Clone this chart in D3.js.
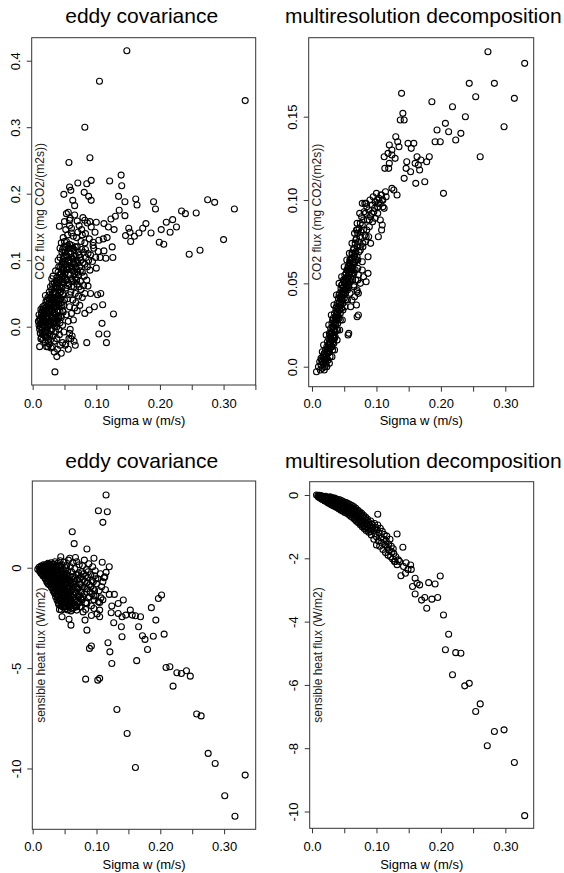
<!DOCTYPE html>
<html><head><meta charset="utf-8">
<script src="https://cdn.jsdelivr.net/npm/d3@7"></script>
<style>html,body{margin:0;padding:0;background:#fff;overflow:hidden}svg{display:block}</style>
</head><body>
<svg id="c" width="564" height="873"></svg>
<script>
// ---------- text ----------
const panelTitles = ["eddy covariance", "multiresolution decomposition", "eddy covariance", "multiresolution decomposition"];
const xAxisTitle = "Sigma w (m/s)";
const yAxisTitles = ["CO2 flux (mg CO2/(m2s))", "CO2 flux (mg CO2/(m2s))", "sensible heat flux (W/m2)", "sensible heat flux (W/m2)"];

// ---------- ticks ----------
const xTicks = [0, 0.05, 0.10, 0.15, 0.20, 0.25, 0.30, 0.35];
const xTickLabels = ["0.0", "", "0.10", "", "0.20", "", "0.30", ""];
const co2EcTicks = [0, 0.1, 0.2, 0.3, 0.4];
const co2EcTickLabels = ["0.0", "0.1", "0.2", "0.3", "0.4"];
const co2MrdTicks = [0, 0.05, 0.10, 0.15];
const co2MrdTickLabels = ["0.0", "0.05", "0.10", "0.15"];
const hEcTicks = [0, -5, -10];
const hEcTickLabels = ["0", "-5", "-10"];
const hMrdTicks = [0, -2, -4, -6, -8, -10];
const hMrdTickLabels = ["0", "-2", "-4", "-6", "-8", "-10"];

// ---------- data: [sigma w (m/s), flux] ----------
const co2Ec = [
[.148,.415],[.105,.369],[.334,.340],[.082,.300],[.090,.254],[.057,.247],[.139,.228],[.092,.220],[.121,.219],[.140,.212],
[.071,.216],[.085,.215],[.058,.210],[.060,.205],[.049,.199],[.081,.202],[.088,.196],[.135,.196],[.145,.188],[.162,.192],
[.164,.183],[.092,.190],[.063,.190],[.066,.182],[.190,.188],[.193,.177],[.275,.191],[.286,.187],[.317,.177],[.257,.171],
[.234,.174],[.240,.170],[.220,.161],[.210,.157],[.226,.150],[.202,.146],[.216,.142],[.186,.141],[.178,.155],[.173,.148],
[.167,.141],[.160,.136],[.153,.142],[.146,.137],[.154,.128],[.151,.148],[.199,.127],[.206,.124],[.246,.109],[.263,.115],
[.300,.131],[.145,.167],[.136,.175],[.130,.166],[.123,.162],[.128,.146],[.119,.150],[.112,.155],[.117,.134],[.111,.132],
[.104,.130],[.125,.120],[.112,.114],[.126,.104],[.115,.103],[.106,.104],[.099,.104],[.100,.088],[.096,.118],[.095,.127],
[.100,.157],[.090,.158],[.082,.160],[.077,.146],[.078,.138],[.070,.159],[.059,.163],[.056,.172],[.042,.151],[.058,.152],
[.061,.141],[.071,.142],[.082,.126],[.087,.110],[.103,.113],[.090,.085],[.087,.061],[.091,.050],[.102,.048],[.107,.050],
[.110,.033],[.097,.030],[.089,.025],[.082,.020],[.127,.019],[.109,.005],[.104,-.011],[.117,-.011],[.116,-.024],[.085,-.024],
[.067,-.028],[.038,-.045],[.035,-.068],[.024,-.030],[.011,-.030],[.051,-.028],[.060,-.018],[.058,-.010],
[.009,.008],[.010,.002],[.011,-.004],[.012,.012],[.010,.018],[.012,-.010],[.013,.005],[.014,-.016],[.014,.020],[.013,.026],
[.015,-.002],[.016,.010],[.016,-.020],[.017,.003],[.017,.016],[.018,-.008],[.018,.024],[.019,.032],[.019,-.014],[.016,.030],
[.018,.009],[.015,.015],[.020,-.024],[.020,.000],[.021,.014],[.021,.038],[.022,-.006],[.022,.022],[.023,.007],[.023,-.016],
[.024,.030],[.024,.044],[.020,.047],[.022,-.030],[.024,.000],[.025,.012],[.025,-.010],[.026,.024],[.026,.052],[.027,.003],
[.027,.036],[.028,-.020],[.028,.017],[.029,.042],[.029,.008],[.026,-.026],[.028,.060],[.027,.028],[.030,.025],[.030,-.004],
[.031,.050],[.031,.013],[.032,.034],[.032,-.014],[.033,.004],[.033,.060],[.034,.020],[.034,.042],[.030,.072],[.032,.076],
[.031,-.030],[.033,.028],[.034,-.022],[.035,.010],[.035,.052],[.036,.030],[.036,-.008],[.037,.068],[.037,.018],[.038,.040],
[.038,.000],[.039,.058],[.039,.024],[.036,.084],[.038,-.018],[.035,.036],[.039,.046],[.040,.012],[.040,.064],[.041,.034],
[.041,-.004],[.042,.050],[.042,.078],[.043,.022],[.043,.006],[.044,.042],[.044,.090],[.040,.100],[.042,-.012],[.041,.056],
[.045,.060],[.045,.014],[.046,.074],[.046,.032],[.047,.002],[.047,.048],[.048,.088],[.048,.022],[.049,.066],[.049,-.008],
[.050,.040],[.050,.104],[.046,.112],
[.011,.010],[.012,.000],[.013,-.018],[.013,.015],[.014,.006],[.015,.024],[.015,-.010],[.016,.002],[.017,-.012],[.017,.027],
[.018,.017],[.019,.000],[.019,.020],[.020,.028],[.020,-.008],[.021,.006],[.021,-.016],[.022,.030],[.022,.012],[.023,.040],
[.023,-.002],[.024,.020],[.024,-.020],[.025,.034],[.025,.002],[.026,.008],[.026,.042],[.027,-.012],[.027,.048],[.028,.026],
[.028,.004],[.029,.032],[.029,-.006],[.030,.040],[.030,.015],[.030,.056],[.031,.030],[.031,.064],[.032,.044],[.032,.006],
[.033,.014],[.033,.050],[.034,.066],[.034,.030],[.035,.000],[.035,.044],[.036,.060],[.036,.014],[.037,.040],[.037,.006],
[.037,.050],[.038,.074],[.038,.030],[.039,.010],[.039,.066],[.040,.040],[.040,.022],[.040,.082],[.041,.070],[.041,.014],
[.042,.040],[.042,.060],[.043,.030],[.043,.070],[.044,.052],[.044,.016],[.045,.080],[.045,.036],[.046,.058],[.046,.094],
[.047,.068],[.047,.024],[.048,.050],[.048,.076],[.049,.086],[.049,.032],
[.043,.118],[.045,.126],[.047,.098],[.049,.120],[.051,.080],[.051,.112],[.052,.058],[.052,.094],[.053,.128],[.054,.070],
[.054,.106],[.055,.042],[.055,.086],[.056,.118],[.057,.064],[.057,.100],[.058,.030],[.058,.124],[.059,.078],[.060,.110],
[.060,.052],[.061,.090],[.062,.070],[.062,.122],[.063,.040],[.063,.102],[.064,.084],[.065,.060],[.065,.116],[.066,.094],
[.067,.074],[.067,.050],[.068,.106],[.069,.086],[.070,.064],[.070,.120],[.071,.096],[.072,.078],[.073,.108],[.074,.090],
[.075,.068],[.076,.100],[.078,.082],[.080,.112],[.082,.094],[.084,.104],[.053,.018],[.056,.008],[.059,-.004],[.061,.020],
[.064,.010],[.066,.028],[.068,.036],[.070,.024],[.072,.046],[.074,.032],[.076,.056],[.078,.044],[.080,.062],[.082,.050],
[.085,.070],[.062,-.014],[.065,-.022],[.057,-.018],[.052,-.026],[.047,-.024],[.043,-.028],[.039,-.034],[.034,-.038],[.029,-.032],
[.045,-.040],[.056,-.034],
[.041,.090],[.043,.104],[.044,.078],[.046,.086],[.047,.116],[.048,.106],[.049,.094],[.050,.074],[.050,.128],[.051,.098],
[.052,.070],[.052,.120],[.053,.086],[.053,.108],[.054,.090],[.055,.122],[.055,.062],[.056,.100],[.056,.078],[.057,.112],
[.058,.088],[.058,.048],[.059,.118],[.059,.096],[.060,.072],[.061,.104],[.061,.060],[.062,.086],[.063,.118],[.064,.096],
[.064,.068],[.065,.106],[.066,.080],[.067,.120],[.068,.090],[.069,.070],[.070,.100],[.071,.082],[.072,.112],[.073,.060],
[.074,.104],[.075,.084],[.077,.116],[.079,.096],[.081,.076],[.083,.116],[.086,.090],[.088,.100],[.091,.108],[.094,.098],
[.048,.134],[.052,.146],[.055,.138],[.058,.160],[.061,.148],[.064,.136],[.066,.168],[.069,.134],[.073,.152],[.076,.128],
[.079,.164],[.083,.140],[.086,.156],[.089,.132],[.092,.150],[.095,.122],[.098,.142],[.053,.170],[.050,.158]
];

const co2Mrd = [
[.273,.189],[.330,.182],[.244,.170],[.283,.170],[.139,.164],[.254,.162],[.314,.161],[.186,.159],[.218,.156],[.141,.152],
[.238,.150],[.137,.148],[.143,.148],[.298,.144],[.207,.146],[.194,.142],[.212,.141],[.231,.140],[.130,.138],[.133,.135],
[.223,.136],[.199,.135],[.191,.135],[.135,.132],[.120,.133],[.124,.130],[.149,.134],[.158,.134],[.154,.131],[.129,.125],
[.118,.128],[.112,.126],[.124,.127],[.120,.122],[.113,.119],[.119,.119],[.147,.123],[.163,.126],[.160,.122],[.165,.121],
[.169,.124],[.167,.118],[.153,.117],[.146,.119],[.182,.126],[.178,.123],[.175,.111],[.161,.110],[.143,.113],[.261,.126],
[.204,.104],[.124,.107],[.127,.106],[.132,.103],[.115,.102],[.107,.103],[.109,.100],[.101,.100],[.103,.098],[.110,.096],
[.084,.098],[.097,.095],[.093,.092],[.102,.092],[.098,.089],[.106,.088],[.109,.085],[.108,.082],[.103,.078],[.089,.088],
[.085,.082],[.080,.082],[.070,.082],[.088,.078],[.083,.075],[.075,.072],[.079,.074],[.091,.074],[.073,.069],[.070,.066],
[.087,.066],[.078,.063],[.066,.063],[.059,.064],[.061,.059],[.071,.059],[.065,.056],[.057,.056],[.087,.056],[.084,.051],
[.071,.052],[.065,.049],[.057,.048],[.070,.046],[.072,.044],[.070,.030],[.057,.020],[.049,.052],[.056,.019],[.072,.031],
[.069,.037],[.059,.064],[.069,.082],[.082,.098],
[.007,-.003],[.010,.000],[.012,.003],[.013,-.002],[.014,.001],[.015,.004],[.016,-.001],[.017,.006],[.018,.002],[.019,.008],
[.020,.000],[.020,.004],[.021,.010],[.022,.006],[.022,.002],[.023,.012],[.024,.008],[.024,.015],[.025,.004],[.025,.011],
[.026,.017],[.026,.013],[.027,.009],[.027,.020],[.028,.015],[.028,.006],[.029,.018],[.029,.023],[.030,.012],[.030,.021],
[.031,.026],[.031,.016],[.032,.010],[.032,.024],[.033,.019],[.033,.029],[.034,.022],[.034,.014],[.035,.027],[.035,.032],
[.036,.018],[.036,.025],[.037,.030],[.037,.035],[.038,.022],[.038,.028],[.039,.033],[.039,.038],[.040,.026],[.040,.031],
[.041,.036],[.041,.041],[.042,.029],[.042,.034],[.043,.039],[.043,.044],[.044,.032],[.044,.037],[.045,.042],[.045,.047],
[.046,.035],[.046,.040],[.047,.045],[.047,.049],[.048,.038],[.048,.043],[.049,.048],[.049,.052],[.050,.041],[.050,.046],
[.051,.050],[.051,.055],[.052,.044],[.053,.048],[.053,.056],[.054,.051],[.055,.046],[.055,.058],[.056,.053],[.057,.049],
[.057,.060],[.058,.055],[.059,.051],[.059,.062],[.060,.057],[.061,.065],[.062,.059],[.063,.068],[.064,.062],[.065,.071],
[.066,.066],[.067,.074],[.068,.069],[.069,.077],[.070,.072],[.071,.080],[.072,.075],[.073,.083],[.074,.078],[.075,.086],
[.076,.081],[.077,.090],[.078,.085],[.080,.088],[.081,.093],[.082,.079],[.083,.092],[.085,.096],[.086,.088],[.088,.094],
[.090,.100],[.091,.090],[.093,.097],[.095,.102],[.096,.093],[.098,.099],[.100,.104],[.102,.096],[.104,.101],[.106,.098],
[.108,.103],[.110,.100],[.112,.095],[.114,.105],
[.016,.009],[.019,-.002],[.023,.000],[.027,.002],[.031,.006],[.035,.010],[.039,.016],[.043,.022],[.047,.028],[.051,.036],
[.055,.040],[.059,.044],[.063,.052],[.067,.058],[.071,.064],[.075,.070],[.079,.072],[.084,.078],[.089,.084],[.094,.087],
[.018,.013],[.022,.019],[.026,.025],[.030,.031],[.034,.037],[.038,.043],[.042,.050],[.046,.054],[.050,.060],[.054,.064],
[.058,.068],[.062,.074],[.066,.080],[.070,.086],[.074,.092],[.078,.098],
[.065,.048],[.068,.052],[.072,.055],[.075,.050],[.078,.058],[.080,.054],[.070,.045],[.066,.042],[.062,.040],[.060,.036],
[.014,.005],[.016,.003],[.018,.007],[.019,.004],[.021,.003],[.021,.007],[.023,.005],[.023,.009],[.024,.011],[.025,.008],
[.026,.010],[.027,.014],[.028,.011],[.028,.019],[.029,.014],[.030,.016],[.031,.020],[.031,.012],[.032,.018],[.032,.028],
[.033,.015],[.033,.024],[.034,.018],[.034,.026],[.035,.022],[.035,.017],[.036,.030],[.036,.021],[.037,.026],[.038,.032],
[.038,.036],[.039,.029],[.040,.035],[.040,.022],[.041,.030],[.042,.038],[.042,.043],[.043,.034],[.044,.041],[.044,.028],
[.045,.037],[.046,.044],[.046,.049],[.047,.040],[.048,.047],[.048,.034],[.049,.044],[.050,.051],[.051,.046],[.052,.053],
[.052,.040],[.053,.052],[.054,.047],[.054,.058],[.055,.054],[.056,.050],[.056,.060],[.057,.056],[.058,.052],[.058,.062],
[.059,.058],[.060,.053],[.060,.064],[.061,.060],[.062,.056],[.062,.068],[.063,.063],[.064,.058],[.064,.070],[.065,.066],
[.066,.062],[.067,.068],[.068,.064],[.068,.076]
];

const hEc = [
[.115,3.62],[.103,2.84],[.117,2.79],[.110,2.26],[.062,1.79],[.065,1.20],[.085,.93],[.044,.55],[.058,.47],[.067,.51],
[.081,.38],[.096,.47],[.109,.27],[.120,.05],[.115,-.23],[.113,-.45],[.110,-.70],[.120,-1.33],[.128,-1.33],[.134,-1.78],
[.142,-1.61],[.124,-1.91],[.123,-2.24],[.127,-2.74],[.134,-2.28],[.140,-2.44],[.146,-2.36],[.153,-2.11],[.156,-2.36],[.161,-2.39],
[.169,-2.44],[.166,-2.94],[.139,-2.94],[.140,-3.44],[.172,-3.39],[.176,-3.57],[.180,-4.07],[.189,-3.41],[.206,-3.31],[.193,-2.61],
[.186,-1.99],[.197,-1.53],[.202,-1.36],[.118,-3.74],[.121,-4.19],[.124,-4.77],[.089,-4.02],[.092,-3.90],[.085,-3.11],[.082,-2.61],
[.092,-2.38],[.105,-2.44],[.105,-2.11],[.105,-1.73],[.107,-1.50],[.096,-1.41],[.096,-2.03],[.085,-1.78],[.083,-2.08],[.069,-2.11],
[.060,-2.86],[.057,-2.57],[.045,-2.11],[.046,-2.44],[.042,-2.08],[.163,-4.63],[.209,-4.97],[.215,-4.93],[.226,-5.23],[.233,-5.27],
[.241,-5.13],[.247,-5.40],[.220,-5.90],[.083,-5.55],[.102,-5.60],[.105,-5.51],[.132,-7.06],[.148,-8.26],[.161,-9.95],[.257,-7.29],
[.264,-7.38],[.275,-9.25],[.286,-9.75],[.301,-11.36],[.317,-12.38],[.333,-10.33],
[.008,-.08],[.010,.02],[.011,-.18],[.012,-.05],[.013,.08],[.014,-.12],[.015,-.30],[.016,.00],[.017,.14],[.017,-.22],
[.018,-.40],[.019,-.08],[.020,.10],[.020,-.55],[.021,-.28],[.022,.04],[.022,-.70],[.023,-.15],[.024,.22],[.024,-.45],
[.025,-.02],[.026,-.60],[.026,-.85],[.027,.12],[.027,-.32],[.028,-.10],[.029,-.75],[.029,.25],[.030,-.48],[.030,-1.0],
[.031,.02],[.031,-.22],[.032,-.62],[.032,-1.15],[.033,.18],[.033,-.38],[.034,-.88],[.034,-.05],[.035,-1.30],[.035,.30],
[.036,-.55],[.036,-.18],[.037,-1.05],[.037,.08],[.038,-.72],[.038,-.30],[.039,-1.45],[.039,.22],[.040,-.92],[.040,-.10],
[.041,-1.62],[.041,-.45],[.042,.05],[.042,-1.20],[.043,-.65],[.043,.35],[.044,-.25],[.044,-1.50],[.045,-.85],[.045,-1.78],
[.046,.15],[.046,-.40],[.047,-1.05],[.047,-1.95],[.048,-.60],[.048,-.08],[.049,-1.35],[.049,.28],[.050,-1.65],[.050,-.28],
[.050,-.95],[.051,-2.05],[.052,-.50],[.052,-1.15],[.053,.10],[.053,-1.85],[.054,-.75],[.054,-1.40],[.055,-.15],[.055,-2.10],
[.056,-.98],[.056,.38],[.057,-1.60],[.057,-.40],[.058,-1.25],[.058,-1.95],[.059,-.62],[.059,.05],[.060,-1.45],[.060,-2.15],
[.060,-.85],[.061,-.20],[.062,-1.10],[.062,-1.75],[.063,-.45],[.063,.25],[.064,-1.35],[.064,-2.0],[.065,-.70],[.066,-1.55],
[.066,-.05],[.067,-.95],[.067,-1.90],[.068,-.35],[.068,-1.25],[.069,.30],[.070,-1.70],[.070,-.60],[.071,-1.05],[.072,-.25],
[.072,-1.45],[.073,.15],[.074,-.80],[.074,-1.95],[.075,-1.20],[.076,-.45],[.077,-1.60],[.078,.10],[.078,-.95],[.079,-2.20],
[.080,-.30],[.081,-1.30],[.082,-.70],[.083,-1.75],[.084,-.10],[.085,-1.05],[.086,-.50],[.087,-1.50],[.088,.20],[.089,-.85],
[.090,-1.20],[.091,-.35],[.092,-1.90],[.093,-.65],[.094,.05],[.095,-1.05],[.096,-1.60],[.097,-.40],[.098,-.15],[.099,-1.40],
[.100,-.80],[.101,-2.30],[.102,-.55],[.104,-1.15],[.106,-.30],[.108,-.95],[.110,-1.60],[.112,-.50],[.114,-1.10],
[.018,-.25],[.021,-.10],[.023,-.52],[.025,-.35],[.027,-.65],[.028,-.20],[.029,-.05],[.031,-.42],[.032,-.80],[.033,-.15],
[.034,-.55],[.036,-.92],[.037,-.35],[.038,-.10],[.039,-.70],[.040,-1.20],[.041,-.28],[.042,-.85],[.043,-.05],[.044,-1.05],
[.045,-.48],[.046,-1.30],[.047,-.70],[.048,-.30],[.049,-1.05],[.051,-.60],[.052,-1.55],[.053,-.30],[.054,-1.05],[.055,-.55],
[.012,-.15],[.013,-.28],[.014,.05],[.015,-.08],[.016,-.20],[.016,-.40],[.017,-.10],[.018,.05],[.019,-.30],[.019,-.50],
[.020,-.20],[.021,.15],[.021,-.45],[.022,-.35],[.023,-.65],[.023,.10],[.024,-.25],[.024,-.80],[.025,-.50],[.025,.18],
[.026,-.12],[.026,-.38],[.027,-.85],[.027,-.50],[.028,.05],[.028,-.42],[.029,-.28],[.029,-.95],[.030,-.15],[.030,-.65],
[.031,-.80],[.031,.15],[.032,-.35],[.032,-.48],[.033,-1.00],[.033,-.70],[.034,-.30],[.034,-1.25],[.035,-.80],[.035,-.42],
[.036,-1.10],[.036,.10],[.037,-.60],[.037,-.80],[.038,-1.30],[.038,-.50],[.039,-.90],[.039,-.25],[.040,-1.40],[.040,-.60],
[.041,-1.00],[.041,.12],[.042,-.50],[.042,-1.55],[.043,-1.30],[.043,-.90],[.044,-.70],[.044,.10],[.045,-1.20],[.045,-.15],
[.046,-.90],[.046,-1.60],[.047,-.55],[.047,-1.40],[.048,-1.20],[.048,-1.75],[.049,-.80],[.049,-.45],[.050,-1.30],[.050,-1.95],
[.051,-.90],[.051,-.40],[.052,-1.75],[.052,.00],[.053,-1.20],[.053,-.60],[.054,-1.65],[.054,-.35],[.055,-1.20],[.055,-.80],
[.056,-1.50],[.057,-1.05],[.057,-1.85],[.058,-.65],
[.036,-1.45],[.038,-1.60],[.040,-1.75],[.041,-1.85],[.043,-1.65],[.044,-1.90],[.046,-1.80],[.048,-1.50],[.050,-1.75],[.052,-1.95],
[.053,-1.55],[.055,-1.70],[.056,-1.90],[.058,-1.55],[.059,-1.80],[.061,-1.65],[.062,-2.05],[.063,-1.50],[.065,-1.85],[.066,-1.20],
[.068,-1.60],[.069,-1.95],[.071,-1.35],[.073,-1.75],[.075,-1.55],[.076,-1.95],[.077,-1.25],[.079,-1.45],[.060,-1.15],[.062,-.75],
[.064,-.95],[.066,-.55],[.068,-.80],[.070,-1.00],[.071,-.35],[.073,-.55],[.075,-.85],[.077,-.20],[.079,-.60],[.081,-.95],
[.083,-.40],[.085,-.75],[.087,-.20],[.089,-1.45],[.091,-.95],[.093,-1.30],[.095,-.70],[.097,-1.15],[.099,-.55],[.103,-1.70]
];

const hMrd = [
[.102,-.61],[.132,-1.23],[.141,-1.65],[.129,-2.10],[.138,-2.55],[.145,-2.47],[.142,-2.26],[.146,-2.14],[.149,-2.35],[.153,-2.21],
[.154,-2.35],[.199,-2.56],[.181,-2.77],[.191,-2.81],[.160,-2.63],[.156,-2.89],[.163,-2.79],[.167,-2.84],[.160,-3.13],[.170,-3.32],
[.175,-3.24],[.186,-3.29],[.195,-3.24],[.178,-3.58],[.204,-3.79],[.212,-4.40],[.207,-4.89],[.223,-4.98],[.231,-5.00],[.218,-5.68],
[.237,-6.03],[.244,-5.95],[.254,-6.84],[.261,-6.60],[.272,-7.92],[.283,-7.47],[.298,-7.42],[.314,-8.45],[.330,-10.13],[.136,-2.10],
[.007,.00],[.009,-.02],[.010,-.06],[.011,-.01],[.012,-.04],[.012,-.09],[.013,-.02],[.014,-.06],[.014,-.11],[.015,-.03],
[.016,-.08],[.016,-.14],[.017,-.04],[.018,-.10],[.018,-.16],[.019,-.06],[.020,-.12],[.020,-.19],[.021,-.04],[.022,-.09],
[.022,-.15],[.023,-.21],[.024,-.07],[.024,-.12],[.025,-.18],[.025,-.25],[.026,-.09],[.027,-.14],[.027,-.22],[.028,-.06],
[.028,-.28],[.029,-.17],[.029,-.11],[.030,-.24],[.030,-.31],[.031,-.08],[.031,-.14],[.032,-.20],[.032,-.27],[.033,-.12],
[.033,-.34],[.034,-.17],[.034,-.23],[.035,-.30],[.035,-.10],[.036,-.37],[.036,-.15],[.037,-.21],[.037,-.28],[.038,-.34],
[.038,-.13],[.039,-.40],[.039,-.18],[.040,-.25],[.040,-.31],[.041,-.14],[.041,-.38],[.042,-.44],[.042,-.20],[.043,-.27],
[.043,-.34],[.044,-.16],[.044,-.41],[.045,-.48],[.045,-.23],[.046,-.30],[.046,-.37],[.047,-.19],[.047,-.44],[.048,-.51],
[.048,-.26],[.049,-.33],[.049,-.40],[.050,-.22],[.050,-.47],[.051,-.55],[.051,-.29],[.052,-.36],[.052,-.43],[.053,-.24],
[.053,-.50],[.054,-.58],[.054,-.32],[.055,-.40],[.055,-.47],[.056,-.27],[.056,-.54],[.057,-.62],[.057,-.35],[.058,-.43],
[.058,-.51],[.059,-.30],[.059,-.58],[.060,-.67],[.060,-.38],[.061,-.46],[.061,-.55],[.062,-.33],[.062,-.62],[.063,-.71],
[.063,-.42],[.064,-.50],[.064,-.60],[.065,-.37],[.065,-.68],[.066,-.77],[.066,-.46],[.067,-.55],[.067,-.64],[.068,-.42],
[.068,-.73],[.069,-.83],[.069,-.51],[.070,-.60],[.070,-.70],[.071,-.48],[.071,-.79],[.072,-.88],[.072,-.57],[.073,-.66],
[.073,-.75],[.074,-.53],[.074,-.85],[.075,-.94],[.075,-.62],[.076,-.72],[.076,-.81],[.077,-.58],[.077,-.90],[.078,-1.00],
[.078,-.68],[.079,-.78],[.079,-.87],[.080,-.64],[.080,-.96],[.081,-1.06],[.081,-.74],[.082,-.84],[.082,-.93],[.083,-.70],
[.083,-1.02],[.084,-1.12],[.084,-.80],[.085,-.90],[.086,-1.00],[.086,-.76],[.087,-1.08],[.088,-1.18],[.088,-.86],[.089,-.96],
[.090,-1.05],[.091,-.82],[.091,-1.15],[.092,-1.26],[.093,-.92],[.094,-1.02],[.095,-1.12],[.096,-1.40],[.097,-.90],[.098,-1.22],
[.099,-1.02],[.100,-1.32],[.100,-1.58],[.101,-1.10],[.102,-.95],[.103,-1.45],[.104,-1.20],[.105,-1.62],[.106,-1.05],[.107,-1.35],
[.108,-1.50],[.109,-1.15],[.110,-1.72],[.111,-1.40],[.112,-1.25],[.113,-1.58],[.114,-1.82],[.115,-1.45],[.116,-1.30],[.117,-1.65],
[.118,-1.90],[.119,-1.55],[.120,-1.75],[.121,-1.40],[.122,-1.95],[.123,-1.62],[.124,-1.80],[.125,-2.02],[.126,-1.70],[.127,-1.85],
[.128,-2.10],[.130,-1.95],[.132,-2.20],[.134,-2.05]
];

// ---------- layout (pixel geometry of the four plot boxes) ----------
const panels = [
  {data: co2Ec,  box: {l: 31.7, r: 255.7, t: 37.7, b: 385},     xd: [-0.0015, 0.3505], yd: [-0.0877, 0.4346], yt: co2EcTicks,  ytl: co2EcTickLabels,  row: 0, tx: 141.7, ta: "middle"},
  {data: co2Mrd, box: {l: 308.7, r: 533.7, t: 37.7, b: 386.7},  xd: [-0.0051, 0.344],  yd: [-0.012, 0.1974],  yt: co2MrdTicks, ytl: co2MrdTickLabels, row: 0, tx: 285, ta: "start"},
  {data: hEc,    box: {l: 32.3, r: 255.7, t: 481, b: 829.3},    xd: [-0.0006, 0.3495], yd: [-13.03, 4.32],    yt: hEcTicks,    ytl: hEcTickLabels,    row: 1, tx: 141.7, ta: "middle"},
  {data: hMrd,   box: {l: 309.7, r: 533.7, t: 481.7, b: 828.3}, xd: [-0.0036, 0.344],  yd: [-10.53, 0.42],    yt: hMrdTicks,   ytl: hMrdTickLabels,   row: 1, tx: 285, ta: "start"}
];
const rowText = [
  {title: 23, xtick: 407.7, xtitle: 424.5},
  {title: 468, xtick: 851.3, xtitle: 869}
];

const FONT = "'Liberation Sans', Arial, Helvetica, sans-serif";
const svg = d3.select("#c");
svg.append("rect").attr("width", 564).attr("height", 873).attr("fill", "#fff");

panels.forEach((p, i) => {
  const b = p.box;
  const x = d3.scaleLinear().domain(p.xd).range([b.l, b.r]);
  const y = d3.scaleLinear().domain(p.yd).range([b.b, b.t]);
  const g = svg.append("g");
  const cx = (b.l + b.r) / 2, cy = (b.t + b.b) / 2;
  const rt = rowText[p.row];

  // title
  g.append("text").attr("x", p.tx).attr("y", rt.title).attr("text-anchor", p.ta)
    .attr("font-family", FONT).attr("font-size", 21).attr("fill", "#000").text(panelTitles[i]);

  // points
  g.append("g").selectAll("circle").data(p.data).join("circle")
    .attr("cx", d => x(d[0])).attr("cy", d => y(d[1])).attr("r", 3.0)
    .attr("fill", "none").attr("stroke", "#000").attr("stroke-width", 1.1);

  // box
  g.append("rect").attr("x", b.l).attr("y", b.t).attr("width", b.r - b.l).attr("height", b.b - b.t)
    .attr("fill", "none").attr("stroke", "#333").attr("stroke-width", 1);

  // x axis
  const xt = xTicks.map((v, k) => [v, xTickLabels[k]]).filter(d => d[0] >= p.xd[0] && d[0] <= p.xd[1]);
  const xAxis = d3.axisBottom(x).tickValues(xt.map(d => d[0])).tickSize(5).tickSizeOuter(0)
    .tickFormat((v, k) => xt[k][1]);
  const xg = g.append("g").attr("transform", `translate(0,${b.b})`).call(xAxis);
  xg.select(".domain").remove();
  xg.selectAll(".tick line").attr("stroke", "#333");
  xg.selectAll(".tick text").attr("y", 0).attr("dy", null)
    .attr("transform", `translate(0,${rt.xtick - b.b})`)
    .attr("font-family", FONT).attr("font-size", 13).attr("fill", "#000");

  g.append("text").attr("x", cx).attr("y", rt.xtitle).attr("text-anchor", "middle")
    .attr("font-family", FONT).attr("font-size", 13).attr("fill", "#000").text(xAxisTitle);

  // y axis
  const yAxis = d3.axisLeft(y).tickValues(p.yt).tickSize(5).tickSizeOuter(0)
    .tickFormat((v, k) => p.ytl[k]);
  const yg = g.append("g").attr("transform", `translate(${b.l},0)`).call(yAxis);
  yg.select(".domain").remove();
  yg.selectAll(".tick line").attr("stroke", "#333");
  yg.selectAll(".tick text").attr("x", null).attr("dy", null)
    .attr("transform", "translate(-11.7,0) rotate(-90)").attr("text-anchor", "middle")
    .attr("font-family", FONT).attr("font-size", 13).attr("fill", "#000");

  // y title (inside the box)
  g.append("text").attr("transform", `translate(${b.l + 12.5},${cy}) rotate(-90)`)
    .attr("text-anchor", "middle").attr("font-family", FONT).attr("font-size", 12)
    .attr("fill", "#222").text(yAxisTitles[i]);
});
</script>
</body></html>
